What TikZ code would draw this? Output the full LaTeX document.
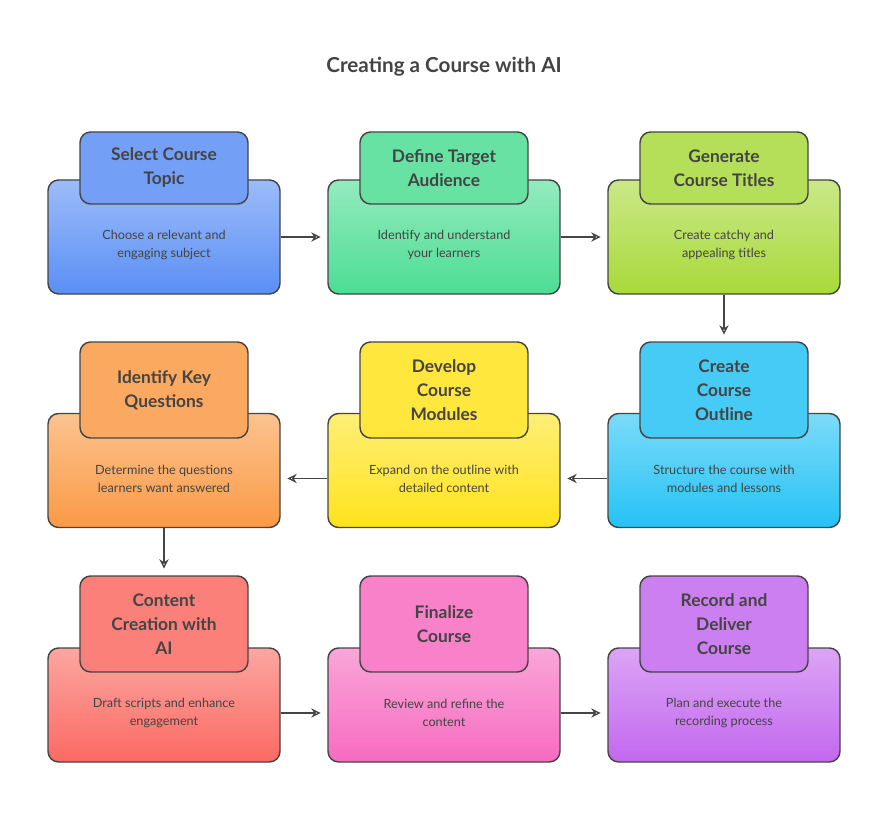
\documentclass[tikz,border=0pt]{standalone}
\usepackage{fontspec}
\setmainfont{Lato}
\usetikzlibrary{arrows.meta}
\definecolor{edge}{HTML}{454545}
\definecolor{txt}{HTML}{444444}
\tikzset{
 bigbox/.style={draw=edge,line width=1.1pt,rounded corners=8pt,minimum width=174pt,minimum height=85.5pt,inner sep=0pt},
 headbox/.style={draw=edge,line width=1.1pt,rounded corners=8pt,minimum width=126pt,inner sep=0pt,align=center,font=\fontsize{13}{18}\selectfont\bfseries,text=txt},
 body/.style={align=center,font=\fontsize{9.5}{13.5}\selectfont,text=txt},
 conn/.style={draw=edge,line width=1pt,-{Stealth[length=7pt,width=7pt,open]}},
}
\newcommand{\stepitem}[9]{%
 \node[bigbox,top color=#6!60!white,bottom color=#6] (#1) at (#2,#3) {};
 \node[headbox,minimum height=#7,fill=#6!85!white] (#1h) at (#2,#4) {#8};
 \node[body] (#1b) at (#2,#5) {#9};
}
\begin{document}
\begin{tikzpicture}[x=0.75pt,y=-0.75pt]
\useasboundingbox[fill=white] (0,0) rectangle (888,834);
\definecolor{cA}{HTML}{5A8FF5}\definecolor{cB}{HTML}{4CDD93}\definecolor{cC}{HTML}{A8D93A}
\definecolor{cD}{HTML}{24C2F5}\definecolor{cE}{HTML}{FFE31C}\definecolor{cF}{HTML}{FA9A45}
\definecolor{cG}{HTML}{FB6A62}\definecolor{cH}{HTML}{F76BC0}\definecolor{cI}{HTML}{C368EF}
\node[font=\fontsize{15.5}{18}\selectfont\bfseries,text=txt] (title) at (444,67) {Creating a Course with AI};
\stepitem{s1}{164}{237}{168}{245}{cA}{54pt}{Select Course\\Topic}{Choose a relevant and\\engaging subject}
\stepitem{s2}{444}{237}{168}{245}{cB}{54pt}{Define Target\\Audience}{Identify and understand\\your learners}
\stepitem{s3}{724}{237}{168}{245}{cC}{54pt}{Generate\\Course Titles}{Create catchy and\\appealing titles}
\stepitem{s6}{164}{470.5}{390}{479}{cF}{72pt}{Identify Key\\Questions}{Determine the questions\\learners want answered}
\stepitem{s5}{444}{470.5}{390}{479}{cE}{72pt}{Develop\\Course\\Modules}{Expand on the outline with\\detailed content}
\stepitem{s4}{724}{470.5}{390}{479}{cD}{72pt}{Create\\Course\\Outline}{Structure the course with\\modules and lessons}
\stepitem{s7}{164}{705}{624}{713}{cG}{72pt}{Content\\Creation with\\AI}{Draft scripts and enhance\\engagement}
\stepitem{s8}{444}{705}{624}{713}{cH}{72pt}{Finalize\\Course}{Review and refine the\\content}
\stepitem{s9}{724}{705}{624}{713}{cI}{72pt}{Record and\\Deliver\\Course}{Plan and execute the\\recording process}
\draw[conn] (s1.east) -- ([xshift=-5pt]s2.west);
\draw[conn] (s2.east) -- ([xshift=-5pt]s3.west);
\draw[conn] (s3.south) -- ([yshift=5pt]s4h.north);
\draw[conn] ([yshift=-6pt]s4.west) -- ([xshift=5pt,yshift=-6pt]s5.east);
\draw[conn] ([yshift=-6pt]s5.west) -- ([xshift=5pt,yshift=-6pt]s6.east);
\draw[conn] (s6.south) -- ([yshift=5pt]s7h.north);
\draw[conn] ([yshift=-6pt]s7.east) -- ([xshift=-5pt,yshift=-6pt]s8.west);
\draw[conn] ([yshift=-6pt]s8.east) -- ([xshift=-5pt,yshift=-6pt]s9.west);
\end{tikzpicture}
\end{document}
